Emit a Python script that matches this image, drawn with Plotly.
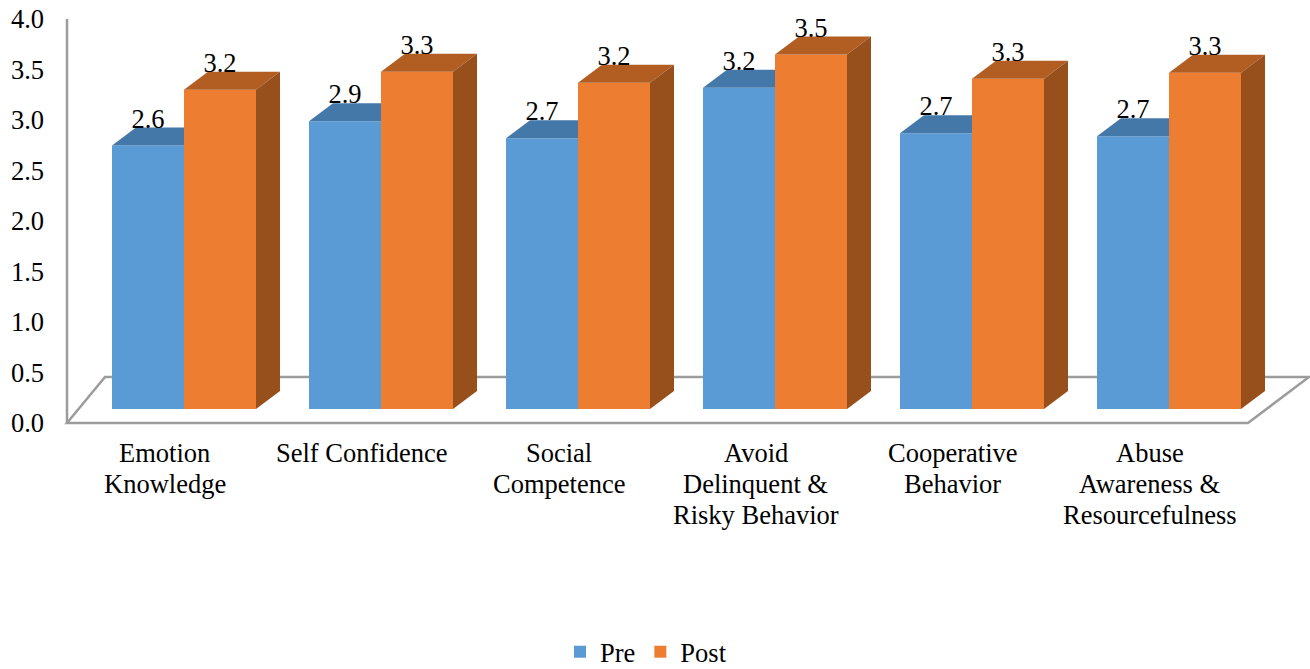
import plotly.graph_objects as go

# Data
categories = [["Emotion", "Knowledge"], ["Self Confidence"], ["Social", "Competence"],
              ["Avoid", "Delinquent &", "Risky Behavior"], ["Cooperative", "Behavior"],
              ["Abuse", "Awareness &", "Resourcefulness"]]
pre = [2.61, 2.85, 2.68, 3.18, 2.73, 2.70]
post = [3.16, 3.34, 3.23, 3.51, 3.27, 3.33]
y_ticks = [0.0, 0.5, 1.0, 1.5, 2.0, 2.5, 3.0, 3.5, 4.0]

# Page geometry in pixels
W, H = 1310, 669
left, top, bottom = 45, 2, 428
px_x = 197.0      # one category
px_y = 101.0      # one value unit
zero_px = 423     # where the 0.0 tick sits
x0_px = 184       # centre of the first pair of bars


def dx(p):
    return p / px_x


def dy(p):
    return p / px_y


base = dy(zero_px - 409)  # bars stand on the floor, above the 0.0 label
bar_w = 72 / px_x
depth_x = dx(24)
depth_y = dy(18)
positions = list(range(len(categories)))
label_gap = dy(24.5)
tick_shift = dx(19.5)
FONT_SIZE = 26.5

PRE_FRONT, PRE_TOP = "#5b9bd5", "#4478a8"
POST_FRONT, POST_TOP, POST_SIDE = "#ed7d31", "#b25d22", "#974f1c"
TEXT = "#000000"
FLOOR = "#9c9c9c"

fig = go.Figure()

# Front faces
fig.add_trace(go.Bar(x=positions, y=pre, base=base, name="Pre", marker=dict(color=PRE_FRONT, line_width=0)))
fig.add_trace(go.Bar(x=positions, y=post, base=base, name="Post", marker=dict(color=POST_FRONT, line_width=0)))

# Top and side faces of the bars
for i, (a, b) in enumerate(zip(pre, post)):
    ya = a + base
    yb = b + base
    # the back of the Pre top is hidden behind the Post bar
    fig.add_trace(go.Scatter(
        x=[i - bar_w, i - bar_w + depth_x, i, i, i - bar_w],
        y=[ya, ya + depth_y, ya + depth_y, ya, ya],
        mode="lines", fill="toself", fillcolor=PRE_TOP, line=dict(width=0),
        showlegend=False, hoverinfo="skip"))
    fig.add_trace(go.Scatter(
        x=[i, i + depth_x, i + bar_w + depth_x, i + bar_w, i],
        y=[yb, yb + depth_y, yb + depth_y, yb, yb],
        mode="lines", fill="toself", fillcolor=POST_TOP, line=dict(width=0),
        showlegend=False, hoverinfo="skip"))
    fig.add_trace(go.Scatter(
        x=[i + bar_w, i + bar_w + depth_x, i + bar_w + depth_x, i + bar_w, i + bar_w],
        y=[yb, yb + depth_y, base + depth_y, base, yb],
        mode="lines", fill="toself", fillcolor=POST_SIDE, line=dict(width=0),
        showlegend=False, hoverinfo="skip"))

# Value labels
fig.add_trace(go.Scatter(
    x=[p - bar_w / 2 for p in positions], y=[v + base + label_gap for v in pre],
    mode="text", text=[f"{v:.1f}" for v in pre], textposition="middle center",
    textfont=dict(size=FONT_SIZE, color=TEXT), showlegend=False, hoverinfo="skip", cliponaxis=False))
fig.add_trace(go.Scatter(
    x=[p + bar_w / 2 for p in positions], y=[v + base + label_gap for v in post],
    mode="text", text=[f"{v:.1f}" for v in post], textposition="middle center",
    textfont=dict(size=FONT_SIZE, color=TEXT), showlegend=False, hoverinfo="skip", cliponaxis=False))

# Category labels, one annotation per line because the line spacing is tighter than plotly's
annotations = []
for p, lines in zip(positions, categories):
    for k, line in enumerate(lines):
        annotations.append(dict(
            x=p - tick_shift, xref="x", y=0, yref="y", yshift=-(30 + 31 * k),
            text=line, showarrow=False, xanchor="center", yanchor="middle",
            font=dict(size=FONT_SIZE, color=TEXT)))

# Floor and left wall, under the bars
fl, fr = dx(67 - x0_px), dx(1248 - x0_px)
bl, br = dx(105 - x0_px), dx(1309 - x0_px)
fy = dy(zero_px - 423)
by = dy(zero_px - 377)
floor_path = f"M {fl} {fy} L {fr} {fy} L {br} {by} L {bl} {by} Z"

fig.update_layout(
    width=W, height=H,
    margin=dict(l=left, r=0, t=top, b=H - bottom, pad=0),
    paper_bgcolor="white", plot_bgcolor="white",
    barmode="group", bargap=1 - 2 * bar_w, bargroupgap=0,
    font=dict(family="Liberation Serif", size=FONT_SIZE, color=TEXT),
    xaxis=dict(
        range=[dx(left - x0_px), dx(W - x0_px)],
        tickmode="array", tickvals=positions, showticklabels=False,
        showgrid=False, zeroline=False, showline=False, ticks="",
    ),
    yaxis=dict(
        range=[dy(zero_px - bottom), dy(zero_px - top)],
        tickmode="array", tickvals=y_ticks, ticktext=[f"{v:.1f}" for v in y_ticks],
        showgrid=False, zeroline=False, showline=False, ticks="",
        ticklabeloverflow="allow",
    ),
    legend=dict(orientation="h", xref="container", yref="container",
                xanchor="center", x=646 / W,
                yanchor="middle", y=1 - 652 / H,
                font=dict(size=FONT_SIZE), itemwidth=30),
    annotations=annotations,
    shapes=[
        dict(type="path", path=floor_path, layer="below", xref="x", yref="y",
             line=dict(color=FLOOR, width=2.5)),
        dict(type="line", xref="x", yref="y", layer="below", x0=fl, x1=fl, y0=fy, y1=4.0,
             line=dict(color=FLOOR, width=2.5)),
    ],
)

# the page's default body margin would push the figure 8px down and right
fig.write_html("out.html", config=dict(displayModeBar=False),
               post_script="document.body.style.margin='0';")
